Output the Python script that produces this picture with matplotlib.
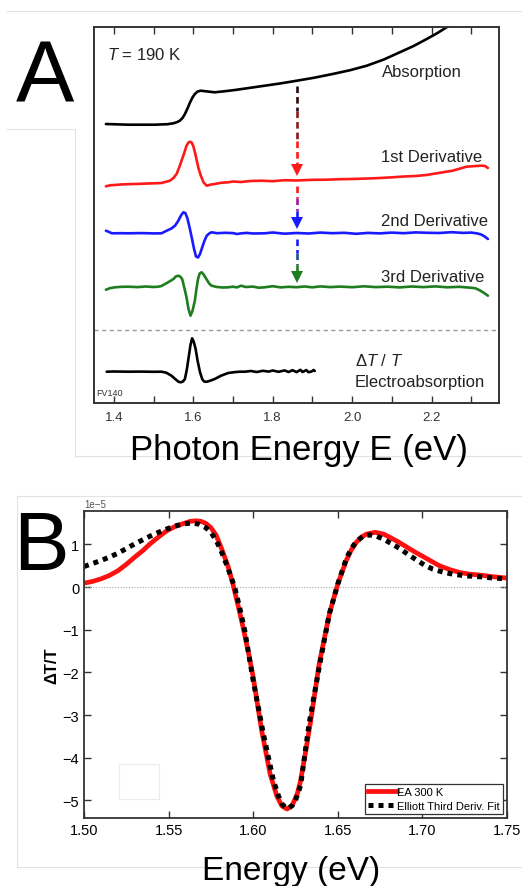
#!/usr/bin/env python3
"""
Absorption, its derivatives and electroabsorption (A), EA fit (B)
"""

import matplotlib
matplotlib.use("Agg")
import matplotlib.pyplot as plt
from matplotlib.lines import Line2D
from matplotlib.patches import Rectangle

# ---- panel A: photon energy (eV), traces in arbitrary offset units ----
absorption = [(1.380, 279.0), (1.436, 278.3), (1.503, 278.3), (1.535, 278.8),
              (1.550, 279.7), (1.560, 281.0), (1.566, 282.3), (1.573, 285.0),
              (1.579, 289.0), (1.586, 295.0), (1.592, 300.7), (1.598, 305.5),
              (1.604, 309.0), (1.611, 311.5), (1.619, 312.3), (1.636, 311.5),
              (1.654, 310.7), (1.680, 311.8), (1.705, 313.0), (1.740, 315.0),
              (1.780, 317.3), (1.820, 319.6), (1.861, 322.3), (1.905, 325.3),
              (1.951, 329.0), (1.995, 332.8), (2.037, 337.3), (2.080, 343.5),
              (2.120, 350.7), (2.155, 357.0), (2.188, 364.0), (2.215, 370.0),
              (2.238, 375.7), (2.260, 381.0)]

first_deriv = [(1.380, 216.7), (1.392, 217.8), (1.403, 218.0), (1.420, 218.6),
               (1.453, 219.0), (1.480, 219.4), (1.520, 220.0), (1.541, 222.3),
               (1.550, 225.0), (1.558, 229.0), (1.565, 236.0), (1.572, 244.0),
               (1.578, 251.0), (1.583, 257.3), (1.588, 260.5), (1.592, 261.3),
               (1.596, 260.5), (1.600, 257.0), (1.604, 251.0), (1.608, 244.0),
               (1.613, 235.0), (1.619, 227.3), (1.626, 220.5), (1.634, 217.3),
               (1.645, 218.5), (1.654, 219.0), (1.670, 220.2), (1.688, 220.7),
               (1.700, 221.5), (1.720, 221.0), (1.745, 222.0), (1.772, 222.3),
               (1.800, 221.8), (1.830, 222.8), (1.860, 222.5), (1.900, 223.2),
               (1.935, 223.3), (1.970, 223.8), (2.000, 224.0), (2.040, 224.5),
               (2.070, 225.0), (2.102, 225.7), (2.130, 226.5), (2.160, 227.0),
               (2.187, 228.0), (2.210, 229.5), (2.230, 230.8), (2.253, 232.3),
               (2.270, 234.2), (2.288, 236.3), (2.305, 236.8), (2.325, 237.3),
               (2.335, 237.0), (2.342, 235.0)]

second_deriv = [(1.380, 172.3), (1.388, 171.0), (1.395, 169.7), (1.420, 169.8),
                (1.436, 169.7), (1.470, 169.9), (1.500, 169.6), (1.520, 169.7),
                (1.533, 172.3), (1.545, 174.5), (1.554, 177.3), (1.562, 182.0),
                (1.569, 187.5), (1.575, 190.7), (1.580, 190.0), (1.585, 185.0),
                (1.591, 175.0), (1.596, 165.7), (1.602, 154.0), (1.607, 146.5),
                (1.612, 145.5), (1.617, 149.0), (1.622, 155.0), (1.628, 162.0),
                (1.634, 167.3), (1.640, 169.5), (1.646, 170.7), (1.660, 169.8),
                (1.680, 170.2), (1.700, 169.9), (1.710, 169.0), (1.720, 169.6),
                (1.735, 170.1), (1.750, 169.5), (1.780, 169.7), (1.800, 170.5),
                (1.830, 169.3), (1.860, 170.0), (1.890, 169.5), (1.920, 170.4),
                (1.950, 169.8), (1.980, 170.2), (2.010, 169.2), (2.040, 170.1),
                (2.070, 169.6), (2.100, 170.4), (2.130, 169.8), (2.160, 170.6),
                (2.190, 170.2), (2.220, 170.0), (2.250, 170.8), (2.280, 170.1),
                (2.300, 170.4), (2.315, 169.6), (2.325, 168.5), (2.334, 166.5),
                (2.342, 164.0)]

third_deriv = [(1.380, 113.3), (1.390, 114.8), (1.403, 115.7), (1.420, 116.2),
               (1.436, 116.3), (1.460, 115.9), (1.480, 116.5), (1.500, 116.0),
               (1.512, 116.3), (1.520, 117.0), (1.529, 119.0), (1.540, 121.5),
               (1.550, 124.0), (1.556, 126.5), (1.562, 127.3), (1.567, 126.5),
               (1.572, 124.0), (1.577, 116.0), (1.583, 105.7), (1.588, 94.0),
               (1.593, 87.3), (1.598, 92.0), (1.604, 102.3), (1.608, 114.0),
               (1.612, 124.0), (1.616, 129.5), (1.621, 130.7), (1.626, 128.5),
               (1.633, 124.0), (1.640, 119.5), (1.646, 117.3), (1.660, 116.0),
               (1.675, 115.5), (1.688, 115.7), (1.700, 116.3), (1.710, 115.6),
               (1.720, 117.3), (1.732, 116.0), (1.750, 116.4), (1.765, 115.3),
               (1.780, 115.7), (1.800, 116.8), (1.820, 115.6), (1.840, 116.2),
               (1.860, 115.8), (1.880, 116.5), (1.900, 115.7), (1.920, 116.6),
               (1.945, 115.9), (1.970, 116.4), (2.000, 115.8), (2.030, 116.7),
               (2.060, 115.9), (2.090, 116.3), (2.120, 115.6), (2.150, 116.5),
               (2.180, 115.9), (2.210, 116.6), (2.240, 115.7), (2.270, 116.2),
               (2.295, 115.4), (2.310, 114.8), (2.321, 112.8), (2.332, 110.2),
               (2.342, 107.3)]

electroabs = [(1.382, 31.3), (1.400, 31.5), (1.436, 31.3), (1.470, 31.4),
              (1.500, 31.2), (1.520, 31.3), (1.532, 30.3), (1.545, 27.3),
              (1.556, 23.5), (1.563, 21.2), (1.569, 20.7), (1.574, 21.5),
              (1.579, 24.0), (1.584, 34.0), (1.589, 47.3), (1.593, 58.0),
              (1.597, 64.7), (1.601, 61.5), (1.606, 54.0), (1.611, 42.0),
              (1.617, 30.7), (1.623, 23.5), (1.628, 21.3), (1.634, 21.3),
              (1.642, 22.2), (1.654, 24.0), (1.670, 27.3), (1.688, 30.0),
              (1.705, 30.9), (1.718, 31.3), (1.730, 31.3), (1.745, 32.0),
              (1.760, 31.0), (1.775, 32.2), (1.790, 31.4), (1.800, 32.5),
              (1.815, 31.2), (1.830, 32.6), (1.840, 31.0), (1.850, 32.8),
              (1.860, 30.9), (1.870, 33.2), (1.875, 31.0), (1.885, 32.9),
              (1.890, 30.8), (1.898, 31.5), (1.903, 33.0), (1.906, 32.0)]

trace_colors = ["black", "#ff1a1a", "#1a1aff", "#1e7d1e", "black"]
trace_names = ["Absorption", "1st Derivative", "2nd Derivative",
               "3rd Derivative", ""]

# ---- panel B: EA at 300 K and Elliott third derivative fit (x 1e-5) ----
ea_300k = [(1.500, 0.09), (1.505, 0.13), (1.510, 0.19), (1.515, 0.27),
           (1.520, 0.38), (1.525, 0.53), (1.530, 0.70), (1.535, 0.86),
           (1.539, 1.01), (1.544, 1.17), (1.549, 1.32), (1.554, 1.42),
           (1.559, 1.49), (1.563, 1.54), (1.566, 1.55), (1.569, 1.54),
           (1.572, 1.49), (1.575, 1.39), (1.578, 1.22), (1.581, 0.93),
           (1.585, 0.50), (1.588, 0.07), (1.591, -0.42), (1.594, -0.94),
           (1.597, -1.50), (1.600, -2.11), (1.605, -3.36), (1.610, -4.38),
           (1.614, -4.90), (1.617, -5.13), (1.620, -5.20), (1.623, -5.12),
           (1.626, -4.85), (1.628, -4.54), (1.631, -3.85), (1.634, -3.13),
           (1.639, -1.80), (1.645, -0.63), (1.650, 0.07), (1.655, 0.62),
           (1.658, 0.87), (1.661, 1.05), (1.664, 1.17), (1.667, 1.24),
           (1.672, 1.28), (1.677, 1.24), (1.681, 1.16), (1.686, 1.05),
           (1.691, 0.93), (1.696, 0.81), (1.701, 0.70), (1.705, 0.61),
           (1.710, 0.50), (1.716, 0.41), (1.722, 0.34), (1.728, 0.30),
           (1.734, 0.28), (1.742, 0.24), (1.750, 0.21)]

elliott_fit = [(1.500, 0.48), (1.505, 0.55), (1.510, 0.62), (1.515, 0.70),
               (1.520, 0.79), (1.525, 0.90), (1.530, 1.01), (1.535, 1.11),
               (1.539, 1.19), (1.544, 1.28), (1.549, 1.36), (1.554, 1.43),
               (1.559, 1.48), (1.564, 1.50), (1.568, 1.47), (1.572, 1.39),
               (1.575, 1.28), (1.578, 1.10), (1.581, 0.85), (1.585, 0.45),
               (1.589, 0.00), (1.592, -0.48), (1.595, -1.02), (1.600, -2.19),
               (1.606, -3.44), (1.612, -4.54), (1.615, -4.90), (1.617, -5.08),
               (1.619, -5.16), (1.621, -5.18), (1.623, -5.12), (1.625, -5.00),
               (1.628, -4.65), (1.633, -3.21), (1.639, -1.88), (1.645, -0.63),
               (1.650, 0.07), (1.655, 0.66), (1.658, 0.90), (1.661, 1.07),
               (1.665, 1.19), (1.669, 1.22), (1.673, 1.19), (1.677, 1.12),
               (1.682, 1.01), (1.687, 0.89), (1.692, 0.75), (1.697, 0.62),
               (1.701, 0.52), (1.706, 0.42), (1.712, 0.35), (1.718, 0.30),
               (1.726, 0.26), (1.734, 0.24), (1.742, 0.21), (1.750, 0.19)]


def main():
    """
    main function here
    """
    plt.rcParams["font.family"] = ["Liberation Sans", "DejaVu Sans"]
    plt.rcParams["mathtext.fontset"] = "custom"
    plt.rcParams["mathtext.rm"] = "Liberation Sans"
    plt.rcParams["mathtext.it"] = "Liberation Sans:italic"

    fig = plt.figure(figsize=(5.22, 8.87), dpi=100)
    W, H = 522.0, 887.0

    # faint frame lines of the original collage
    faint = "#e2e2e2"
    for (x0, y0, x1, y1) in [(7, 12, 522, 12), (7, 130, 73, 130),
                             (75, 130, 75, 458), (75, 457, 522, 457),
                             (17, 497, 522, 497), (17, 497, 17, 868),
                             (17, 868, 522, 868)]:
        fig.add_artist(Line2D([x0 / W, x1 / W], [1 - y0 / H, 1 - y1 / H],
                              color=faint, lw=0.8))

    # ---------------- panel A ----------------
    ax = fig.add_axes([94 / W, 1 - 404 / H, 405 / W, 376 / H])
    curves = [absorption, first_deriv, second_deriv, third_deriv, electroabs]
    for data, col in zip(curves, trace_colors):
        e, y = zip(*data)
        ax.plot(e, y, color=col, lw=1.9, solid_capstyle="round",
                solid_joinstyle="round")

    ax.axhline(73, color="#999999", lw=1.0, ls=(0, (3, 2.5)))

    ax.set_xlim(1.35, 2.37)
    ax.set_ylim(0, 376)
    ax.set_yticks([])
    ax.set_xticks([1.4, 1.6, 1.8, 2.0, 2.2])
    ax.set_xticks([1.5, 1.7, 1.9, 2.1, 2.3], minor=True)
    ax.tick_params(axis="x", which="both", direction="in", top=True,
                   length=5, width=1.0, color="#333333",
                   labelsize=9.5, labelcolor="#333333", pad=6)
    for sp in ax.spines.values():
        sp.set_linewidth(1.4)
        sp.set_color("#333333")

    # dashed arrows between traces
    arrow_x = 1.861
    pieces = [
        [(317, 292, "#2a0c0c"), (292, 262, "#8a1a1a"), (262, 233, "#ff1a1a")],
        [(217, 205, "#ff1a1a"), (205, 192, "#9a1aa8"), (192, 180, "#1a1aff")],
        [(164, 150, "#1a1aff"), (150, 138, "#1f4f8f"), (138, 127, "#1e7d1e")],
    ]
    tips = [(229, "#ff1a1a"), (175.7, "#1a1aff"), (122.3, "#1e7d1e")]
    for segs, (tip, tcol) in zip(pieces, tips):
        for y0, y1, c in segs:
            ax.plot([arrow_x, arrow_x], [y0, y1], color=c, lw=1.9,
                    dashes=(2.5, 1.5))
        ax.plot([arrow_x], [tip + 4], marker="v", ms=8, color=tcol, mew=0)

    ax.text(1.383, 349, r"$T$ = 190 K", fontsize=12, va="center",
            color="#222222")
    label_y = [331, 247, 182, 127]
    for name, ly in zip(trace_names[:4], label_y):
        ax.text(2.074, ly, name, fontsize=12, va="center", color="#222222")
    ax.text(2.007, 43, r"$\Delta T\ /\ T$", fontsize=12, va="center",
            color="#222222")
    ax.text(2.007, 22, "Electroabsorption", fontsize=12, va="center",
            color="#222222")
    ax.text(1.356, 10, "FV140", fontsize=6.5, va="center", color="#333333")

    fig.text(299 / W, 1 - 460 / H, "Photon Energy E (eV)", fontsize=25,
             ha="center", va="baseline")
    fig.text(16 / W, 1 - 102 / H, "A", fontsize=63, ha="left",
             va="baseline")

    # ---------------- panel B ----------------
    bx = fig.add_axes([84 / W, 1 - 819 / H, 423 / W, 307 / H])
    bx.add_artist(Rectangle((119 / W, 1 - 800 / H), 40 / W, 35 / H,
                            transform=fig.transFigure, fill=False,
                            edgecolor="#ececec", lw=0.8))
    bx.axhline(0, color="#aaaaaa", lw=0.8, ls=(0, (1, 1.5)))
    e, y = zip(*ea_300k)
    bx.plot(e, [v * 1e-5 for v in y], color="#ff1010", lw=3.4,
            solid_joinstyle="round", label="EA 300 K")
    e, y = zip(*elliott_fit)
    bx.plot(e, [v * 1e-5 for v in y], color="black", lw=3.6,
            ls=(0, (1, 1)), label="Elliott Third Deriv. Fit")

    bx.set_xlim(1.50, 1.75)
    bx.set_ylim(-5.41e-5, 1.78e-5)
    bx.set_xticks([1.50, 1.55, 1.60, 1.65, 1.70, 1.75])
    bx.set_xticklabels(["1.50", "1.55", "1.60", "1.65", "1.70", "1.75"])
    bx.set_yticks([v * 1e-5 for v in [-5, -4, -3, -2, -1, 0, 1]])
    bx.tick_params(direction="in", top=True, right=True, length=5,
                   width=1.0, labelsize=10.5, color="#333333")
    bx.yaxis.get_offset_text().set_fontsize(7)
    bx.yaxis.get_offset_text().set_color("#555555")
    for sp in bx.spines.values():
        sp.set_linewidth(1.3)
        sp.set_color("#333333")
    bx.set_ylabel("ΔT/T", fontsize=12, fontweight="bold", labelpad=2)

    leg = bx.legend(loc="lower right", fontsize=8, fancybox=False,
                    handlelength=2.6, handletextpad=0.0, borderpad=0.25,
                    labelspacing=0.35, borderaxespad=0.4, framealpha=1)
    leg.get_frame().set_edgecolor("#333333")
    leg.get_frame().set_linewidth(0.9)

    fig.text(291 / W, 1 - 880 / H, "Energy (eV)", fontsize=24,
             ha="center", va="baseline")
    fig.text(13 / W, 1 - 570 / H, "B", fontsize=60, ha="left",
             va="baseline")

    fig.savefig("out.png", dpi=100)


if __name__ == "__main__":
    main()
